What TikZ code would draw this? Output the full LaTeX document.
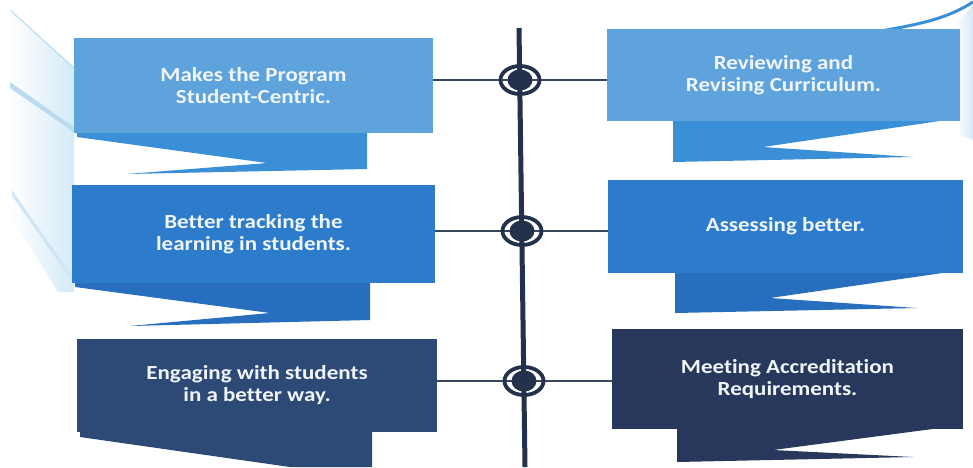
\documentclass[tikz,border=0pt]{standalone}
\usepackage{fontspec}
\setmainfont{Carlito}[FakeStretch=1.15, Ligatures=NoCommon]
\usetikzlibrary{shapes.geometric}
\definecolor{bA}{RGB}{95,163,220}
\definecolor{bAs}{RGB}{58,143,214}
\definecolor{bB}{RGB}{45,124,203}
\definecolor{bBs}{RGB}{40,110,190}
\definecolor{bC}{RGB}{45,74,118}
\definecolor{bCr}{RGB}{40,56,92}
\definecolor{pale}{RGB}{212,234,247}
\definecolor{paleedge}{RGB}{120,182,228}
\definecolor{navy}{RGB}{35,50,74}
\definecolor{txt}{RGB}{240,245,250}
\tikzset{
  box/.style={rectangle, inner sep=0pt, text=txt, align=center,
    font=\fontsize{20}{22}\selectfont\bfseries},
  link/.style={draw=navy!90, line width=1.8pt},
  spine/.style={draw=navy, line width=5pt},
  target/.style={ellipse, draw=navy, line width=3.8pt, inner sep=0pt,
    minimum width=39pt, minimum height=28pt},
}
\begin{document}
\begin{tikzpicture}[x=1pt,y=-1pt]
\fill[white] (0,0) rectangle (973,467);
\useasboundingbox (0,0) rectangle (973,467);
% pale side panel on the left
\shade[left color=white, right color=pale] (10,10) -- (74,68) -- (74,292) -- (58,292) -- (10,215) -- cycle;
\fill[paleedge!50] (10,82) -- (78,130) -- (78,135) -- (10,88) -- cycle;
\fill[paleedge!35] (12,190) -- (72,276) -- (72,281) -- (12,196) -- cycle;
\draw[paleedge!60, line width=0.8pt] (10,10) -- (74,68);
% top right swoosh
\shade[left color=white, right color=pale] (955,25) -- (973,5) -- (973,140) -- (960,135) -- cycle;
\draw[bAs, line width=3pt] (875,32) .. controls (915,25) and (945,20) .. (973,2);
% ribbons under boxes (left)
\fill[bAs] (77,128) -- (367,128) -- (367,169) -- (127,174) -- (267,163) -- (77,137) -- cycle;
\fill[bBs] (75,278) -- (370,278) -- (370,320) -- (130,326) -- (270,313) -- (75,287) -- cycle;
\fill[bC] (80,425) -- (372,425) -- (372,467) -- (290,467) -- (80,437) -- cycle;
% ribbons under boxes (right)
\fill[bAs] (673,116) -- (960,118) -- (763,147) -- (913,157) -- (673,162) -- cycle;
\fill[bBs] (675,268) -- (963,270) -- (770,298) -- (917,308) -- (675,313) -- cycle;
\fill[bCr] (677,422) -- (963,425) -- (773,450) -- (913,457) -- (677,462) -- cycle;
% boxes
\node[box, fill=bA, minimum width=359pt, minimum height=95pt] (L1) at (253.5,85.5) {Makes the Program\\Student-Centric.};
\node[box, fill=bB, minimum width=363pt, minimum height=98pt] (L2) at (253.5,234) {Better tracking the\\learning in students.};
\node[box, fill=bC, minimum width=360pt, minimum height=93pt] (L3) at (257,385) {Engaging with students\\in a better way.};
\node[box, fill=bA, minimum width=353pt, minimum height=92pt] (R1) at (783.5,75) {Reviewing and\\Revising Curriculum.};
\node[box, fill=bB, minimum width=355pt, minimum height=93pt] (R2) at (785.5,226.5) {Assessing better.};
\node[box, fill=bCr, minimum width=351pt, minimum height=100pt] (R3) at (787.5,379) {Meeting Accreditation\\Requirements.};
% spine and links
\coordinate (vtop) at (519,28);
\coordinate (vbot) at (525,467);
\coordinate (c1) at (520,80);
\coordinate (c2) at (522,231);
\coordinate (c3) at (524,381);
\draw[spine] (vtop) -- (vbot);
\draw[link] (L1.east |- c1) -- (c1) -- (R1.west |- c1);
\draw[link] (L2.east |- c2) -- (c2) -- (R2.west |- c2);
\draw[link] (L3.east |- c3) -- (c3) -- (R3.west |- c3);
% targets
\foreach \i in {1,2,3}{
  \node[target] (t\i) at (c\i) {};
  \fill[navy] (c\i) ellipse [x radius=12.5pt, y radius=10.5pt];
}
\end{tikzpicture}
\end{document}
